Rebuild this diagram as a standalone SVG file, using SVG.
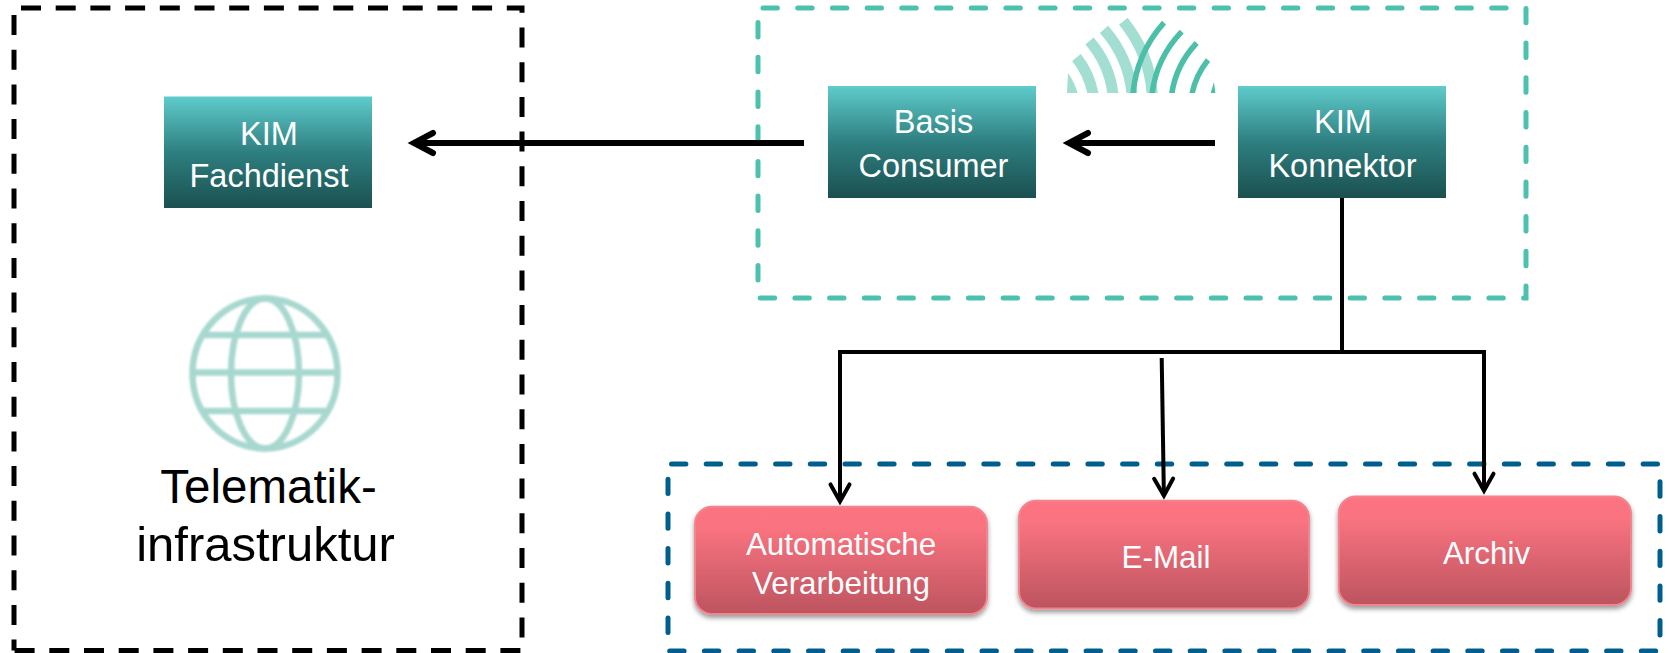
<svg xmlns="http://www.w3.org/2000/svg" width="1669" height="653" viewBox="0 0 1669 653">
  <style>
    text { font-family: "Liberation Sans", Arial, sans-serif; text-anchor: middle; }
    .dash { fill: none; stroke-width: 5; }
    .teal-dash, .blue-dash { stroke-dasharray: 14.4 20.3; stroke-linecap: round; }
    .teal-dash { stroke: #4CC2AE; }
    .blue-dash { stroke: #005E8F; }
    .black-dash { stroke: #000; stroke-dasharray: 20 14.7; }
    .node-teal { fill: url(#tealGrad); }
    .node-pink { fill: url(#pinkGrad); stroke: #F1848F; stroke-width: 2; filter: url(#shadow); }
    .label { fill: #fff; font-size: 32.5px; }
    .label-pink { fill: #fff; font-size: 31.4px; }
    .ti { fill: #000; }
    .ti-a { font-size: 47.5px; }
    .ti-b { font-size: 49px; }
    .heavy { fill: none; stroke: #000; stroke-width: 6; marker-end: url(#headHeavy); }
    .thin { fill: none; stroke: #000; stroke-width: 4; }
    .thin-arrow { marker-end: url(#headThin); }
    .globe { fill: none; stroke: #A7D8CF; stroke-width: 6.500; filter: url(#soft); }
    .arc-light { fill: none; stroke: #A3DED3; stroke-width: 11; }
    .arc-light-fill { fill: #A3DED3; }
    .arc-dark { fill: none; stroke: #4BBFA8; stroke-width: 5.5; }
    .arc-dark-fill { fill: #4BBFA8; }
  </style>
  <defs>
    <linearGradient id="tealGrad" x1="0" y1="0" x2="0" y2="1">
      <stop offset="0" stop-color="#5FCBCB"/>
      <stop offset="0.5" stop-color="#2E7F80"/>
      <stop offset="1" stop-color="#1B5050"/>
    </linearGradient>
    <linearGradient id="pinkGrad" x1="0" y1="0" x2="0" y2="1">
      <stop offset="0" stop-color="#FD7381"/>
      <stop offset="0.2" stop-color="#F97380"/>
      <stop offset="1" stop-color="#BC545F"/>
    </linearGradient>
    <filter id="shadow" x="-5%" y="-5%" width="110%" height="120%">
      <feDropShadow dx="0" dy="3" stdDeviation="2.5" flood-color="#000" flood-opacity="0.4"/>
    </filter>
    <filter id="soft" x="-5%" y="-5%" width="110%" height="110%">
      <feGaussianBlur stdDeviation="0.9"/>
    </filter>
    <clipPath id="arcClip"><rect x="1060" y="10" width="160" height="83"/></clipPath>
    <marker id="headHeavy" markerUnits="userSpaceOnUse" markerWidth="40" markerHeight="40" refX="30" refY="20" orient="auto" viewBox="0 0 40 40">
      <path d="M11,10 L30,20 L11,30" fill="none" stroke="#000" stroke-width="6" stroke-linecap="round"/>
    </marker>
    <marker id="headThin" markerUnits="userSpaceOnUse" markerWidth="40" markerHeight="40" refX="30" refY="20" orient="auto" viewBox="0 0 40 40">
      <path d="M13,10.5 L30,20 L13,29.5" fill="none" stroke="#000" stroke-width="4" stroke-linecap="round"/>
    </marker>
  </defs>

  <g id="telematik-box">
    <path class="dash black-dash" d="M21,8 H522 V650.5 H14 M14,15 V650.5"/>
    <g class="globe" id="globe">
      <ellipse cx="265" cy="373.5" rx="72.5" ry="75"/>
      <ellipse cx="265" cy="373.5" rx="34" ry="75"/>
      <path d="M203,335 H327 M193,372.500 H337 M203,411 H327"/>
    </g>
    <text class="ti"><tspan class="ti-a" x="268.500" y="503">Telematik-</tspan><tspan class="ti-b" x="265.500" y="561">infrastruktur</tspan></text>
  </g>

  <g id="kim-box">
    <path class="dash teal-dash" d="M763,8 H1526 V298 H758 V8 H763"/>
    <g id="kim-logo" clip-path="url(#arcClip)">
      <path class="arc-light-fill" d="M1068,73 Q1075,83 1077.500,93 H1067 Z"/>
      <path class="arc-light" d="M1076.500,57.500 A85,85 0 0 1 1094,100"/>
      <path class="arc-light" d="M1089.500,41 A100,100 0 0 1 1113.500,100"/>
      <path class="arc-light" d="M1104,29.3 A115,115 0 0 1 1132.500,100"/>
      <path class="arc-light" d="M1123.3,21.3 A130,130 0 0 1 1152.500,100"/>
      <path class="arc-dark" d="M1164,22.7 A125,125 0 0 0 1132.500,100"/>
      <path class="arc-dark" d="M1181.7,31.7 A110,110 0 0 0 1151.500,100"/>
      <path class="arc-dark" d="M1196.7,43 A95,95 0 0 0 1171,100"/>
      <path class="arc-dark" d="M1208,60 A80,80 0 0 0 1191,100"/>
      <path class="arc-dark-fill" d="M1214,82 L1210.700,93 H1215.300 Z"/>
    </g>
  </g>

  <g id="output-box">
    <path class="dash blue-dash" d="M671.5,464 H1660 V651 H668 V464 H671.5"/>
  </g>

  <g id="connectors">
    <line class="heavy" x1="804" y1="143" x2="414" y2="143"/>
    <line class="heavy" x1="1215" y1="143" x2="1069" y2="143"/>
    <path class="thin" d="M1342,198 V352"/>
    <path class="thin thin-arrow" d="M1484,352 H840 V501.4"/>
    <path class="thin" d="M1342,352 H1484"/>
    <path class="thin thin-arrow" d="M1484,350 V490.7"/>
    <path class="thin thin-arrow" d="M1161.7,358 L1163.9,495.7"/>
  </g>

  <g id="kim-fachdienst">
    <rect class="node-teal" x="164" y="96.500" width="208" height="111.500"/>
    <text class="label"><tspan x="269" y="144.500">KIM</tspan><tspan x="269" y="187">Fachdienst</tspan></text>
  </g>
  <g id="basis-consumer">
    <rect class="node-teal" x="828" y="86" width="208" height="112"/>
    <text class="label"><tspan x="933.500" y="133">Basis</tspan><tspan x="933.500" y="176.500">Consumer</tspan></text>
  </g>
  <g id="kim-konnektor">
    <rect class="node-teal" x="1238" y="86" width="208" height="112"/>
    <text class="label"><tspan x="1343" y="133">KIM</tspan><tspan x="1342.500" y="176.500">Konnektor</tspan></text>
  </g>
  <g id="automatische-verarbeitung">
    <rect class="node-pink" x="695" y="506.700" width="292" height="107.300" rx="17"/>
    <text class="label-pink"><tspan x="841" y="555">Automatische</tspan><tspan x="841" y="594">Verarbeitung</tspan></text>
  </g>
  <g id="e-mail">
    <rect class="node-pink" x="1019" y="500.700" width="290" height="107.800" rx="17"/>
    <text class="label-pink" x="1166" y="568">E-Mail</text>
  </g>
  <g id="archiv">
    <rect class="node-pink" x="1338.700" y="496.500" width="292.300" height="108.500" rx="17"/>
    <text class="label-pink" x="1486.500" y="564">Archiv</text>
  </g>
</svg>
